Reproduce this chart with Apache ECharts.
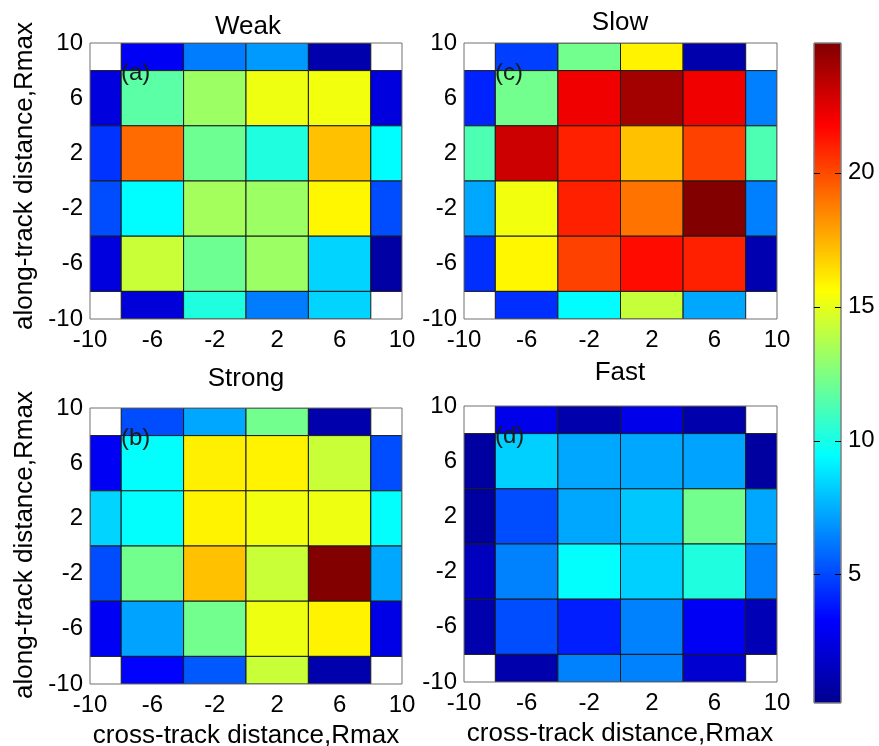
<!DOCTYPE html>
<html><head><meta charset="utf-8">
<script src="https://cdn.jsdelivr.net/npm/echarts@6/dist/echarts.min.js"></script>
<style>html,body{margin:0;padding:0;background:#fff}#c{width:879px;height:746px}</style>
</head><body><div id="c"></div><script>
// cell centres (cross-track x, along-track y), rows listed top (y=10) to bottom (y=-10)
const xCenters = [-10, -6, -2, 2, 6, 10];
const yCenters = [10, 6, 2, -2, -6, -10];
const axisTicks = [-10, -6, -2, 2, 6, 10];
const colorbarTicks = [5, 10, 15, 20];
const colorMin = 0.2, colorMax = 24.85;
const panelTitles = ['Weak', 'Slow', 'Strong', 'Fast'];
const panelTags = ['(a)', '(c)', '(b)', '(d)'];
const weak = [
  [null, 3.0, 6.3, 7.0, 1.0, null],
  [2.4, 11.6, 13.2, 15.2, 15.3, 2.4],
  [4.5, 19.2, 12.1, 10.2, 17.1, 9.4],
  [5.1, 9.4, 13.4, 13.2, 15.8, 5.1],
  [2.4, 14.3, 12.1, 13.2, 8.4, 0.8],
  [null, 2.2, 10.2, 6.3, 8.4, null]
];
const slow = [
  [null, 4.8, 12.2, 15.9, 1.0, null],
  [4.1, 12.2, 22.1, 24.0, 22.1, 6.35],
  [11.3, 23.0, 21.0, 17.1, 20.2, 11.3],
  [7.3, 15.3, 21.0, 19.0, 24.8, 6.35],
  [4.4, 15.8, 20.2, 21.5, 21.0, 1.1],
  [null, 4.4, 9.4, 14.2, 7.3, null]
];
const strong = [
  [null, 5.1, 7.3, 12.2, 1.0, null],
  [3.0, 9.5, 16.0, 15.9, 14.3, 5.1],
  [8.4, 9.5, 15.9, 15.3, 15.2, 9.5],
  [5.1, 12.2, 17.1, 14.3, 24.8, 7.3],
  [3.0, 7.2, 12.2, 15.2, 15.9, 2.6],
  [null, 3.3, 5.4, 14.3, 1.0, null]
];
const fast = [
  [null, 2.7, 1.0, 2.7, 1.0, null],
  [0.7, 8.3, 7.3, 7.3, 7.2, 0.7],
  [0.7, 5.1, 7.3, 8.1, 12.2, 7.3],
  [1.5, 6.4, 9.5, 8.3, 10.2, 6.4],
  [1.0, 5.1, 4.0, 6.4, 3.0, 1.3],
  [null, 1.0, 6.4, 6.4, 2.0, null]
];
const panels = [weak, slow, strong, fast];
const jet = ['#00008F','#0000FF','#0080FF','#00FFFF','#80FF80','#FFFF00','#FF8000','#FF0000','#800000'];

const FONT = "'Liberation Sans', Arial, Helvetica, sans-serif";
const gridsPx = [
  {left: 90, top: 43, width: 312, height: 276},
  {left: 464, top: 43, width: 313, height: 276},
  {left: 90, top: 408, width: 312, height: 276},
  {left: 464, top: 406, width: 313, height: 276}
];

function toData(m) {
  const out = [];
  m.forEach((row, r) => row.forEach((v, c) => {
    if (v !== null) out.push([xCenters[c], yCenters[r], v]);
  }));
  return out;
}

const grid = gridsPx.map(g => Object.assign({show: true, borderColor: '#707070', borderWidth: 1, z: 5, backgroundColor: 'transparent'}, g));
grid.push({left: 814, top: 43, width: 27, height: 660, show: true, borderColor: '#808080', borderWidth: 1, z: 10, backgroundColor: 'transparent'});

const xAxis = [], yAxis = [];
for (let i = 0; i < 4; i++) {
  xAxis.push({gridIndex: i, type: 'value', min: -10, max: 10, interval: 4,
    axisLine: {show: false}, axisTick: {show: false}, splitLine: {show: false},
    axisLabel: {fontSize: 24, color: '#000', fontFamily: FONT, margin: 9,
      formatter: v => axisTicks.includes(v) ? String(v) : ''}});
  yAxis.push({gridIndex: i, type: 'value', min: -10, max: 10, interval: 4,
    axisLine: {show: false}, axisTick: {show: false}, splitLine: {show: false},
    axisLabel: {fontSize: 24, color: '#000', fontFamily: FONT, margin: 7,
      formatter: v => axisTicks.includes(v) ? String(v) : ''}});
}
xAxis.push({gridIndex: 4, type: 'value', min: 0, max: 1, show: false});
yAxis.push({gridIndex: 4, type: 'value', min: colorMin, max: colorMax, position: 'right',
  axisLine: {show: false}, splitLine: {show: false}, axisTick: {show: false},
  axisLabel: {fontSize: 24, color: '#000', fontFamily: FONT, margin: 7, customValues: colorbarTicks}});

const series = panels.map((m, i) => ({
  type: 'custom', xAxisIndex: i, yAxisIndex: i, data: toData(m),
  encode: {x: 0, y: 1}, clip: true,
  renderItem: (params, api) => {
    const x = api.value(0), y = api.value(1);
    const p0 = api.coord([Math.max(x - 2, -10), Math.min(y + 2, 10)]);
    const p1 = api.coord([Math.min(x + 2, 10), Math.max(y - 2, -10)]);
    return {type: 'rect', shape: {x: p0[0], y: p0[1], width: p1[0] - p0[0], height: p1[1] - p0[1]},
      style: {fill: api.visual('color'), stroke: '#1a1a1a', lineWidth: 1}};
  }
}));
// colour bar (gradient of the same jet map, spanning colorMin..colorMax on its own axis)
series.push({
  type: 'custom', xAxisIndex: 4, yAxisIndex: 4, z: 2, silent: true,
  data: [[0, colorMin, 1, colorMax]], encode: {x: [0, 2], y: [1, 3]},
  renderItem: (params, api) => {
    const p0 = api.coord([api.value(0), api.value(3)]);
    const p1 = api.coord([api.value(2), api.value(1)]);
    return {type: 'rect', shape: {x: p0[0], y: p0[1], width: p1[0] - p0[0], height: p1[1] - p0[1]},
      style: {fill: new echarts.graphic.LinearGradient(0, 1, 0, 0,
        jet.map((c, k) => ({offset: k / (jet.length - 1), color: c}))), stroke: '#808080', lineWidth: 1}};
  }
});
// colour-bar tick dashes (inside, both edges)
series.push({
  type: 'custom', xAxisIndex: 4, yAxisIndex: 4, z: 20, silent: true,
  data: colorbarTicks.map(v => [0, v]), encode: {x: 0, y: 1},
  renderItem: (params, api) => {
    const v = api.value(1);
    const l = api.coord([0, v]), r = api.coord([1, v]);
    const yy = Math.round(l[1]) + 0.5;
    return {type: 'group', children: [
      {type: 'line', shape: {x1: l[0], y1: yy, x2: l[0] + 6, y2: yy}, style: {stroke: '#000', lineWidth: 1}},
      {type: 'line', shape: {x1: r[0] - 6, y1: yy, x2: r[0], y2: yy}, style: {stroke: '#000', lineWidth: 1}}
    ]};
  }
});

function txt(s, x, y, size, rot) {
  return {type: 'text', x: x, y: y, rotation: rot || 0, z: 100,
    style: {text: s, font: size + 'px ' + FONT, fill: '#000', align: 'center', verticalAlign: 'middle',
      textAlign: 'center', textVerticalAlign: 'middle'}};
}
function tag(s, x, y) {
  return {type: 'text', x: x, y: y, z: 100,
    style: {text: s, font: '24px ' + FONT, fill: '#1a1a1a', align: 'left', verticalAlign: 'middle',
      textAlign: 'left', textVerticalAlign: 'middle'}};
}
const graphic = [
  txt(panelTitles[0], 248, 27, 26),
  txt(panelTitles[1], 620, 23, 26),
  txt(panelTitles[2], 246, 379, 26),
  txt(panelTitles[3], 620, 373, 26),
  tag(panelTags[0], 121, 73), tag(panelTags[1], 495, 73),
  tag(panelTags[2], 121, 438), tag(panelTags[3], 495, 436),
  txt('along-track distance,Rmax', 25, 176, 26, Math.PI / 2),
  txt('along-track distance,Rmax', 25, 545, 26, Math.PI / 2),
  txt('cross-track distance,Rmax', 246, 736, 26),
  txt('cross-track distance,Rmax', 620, 734, 26)
];

const chart = echarts.init(document.getElementById('c'), null, {renderer: 'canvas'});
chart.setOption({
  backgroundColor: '#fff', animation: false,
  grid, xAxis, yAxis, series, graphic,
  visualMap: {type: 'continuous', show: false, min: colorMin, max: colorMax, dimension: 2, seriesIndex: [0, 1, 2, 3],
    inRange: {color: jet}}
});
</script></body></html>
